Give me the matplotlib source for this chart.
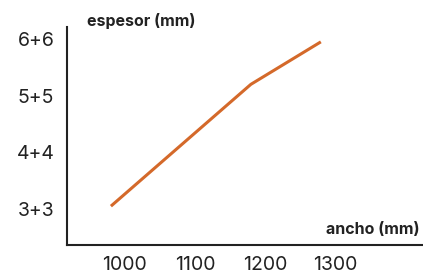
import matplotlib
matplotlib.use('Agg')
import matplotlib.pyplot as plt

# Data
ancho = [980, 1180, 1280]          # width [mm]
espesor = [3.05, 5.2, 5.95]        # thickness level
x_ticks = [1000, 1100, 1200, 1300]
y_ticks = [3, 4, 5, 6]
y_labels = ['3+3', '4+4', '5+5', '6+6']

plt.rcParams['font.family'] = ['Inter', 'DejaVu Sans']

fig = plt.figure(figsize=(4.23, 2.74), dpi=100)
ax = fig.add_axes([0.158, 0.106, 0.842, 0.795])

ax.plot(ancho, espesor, color='#d4692a', linewidth=2.2, solid_capstyle='butt')

ax.set_xlim(917, 1426)
ax.set_ylim(2.365, 6.21)
ax.set_xticks(x_ticks)
ax.set_yticks(y_ticks)
ax.set_yticklabels(y_labels)
ax.tick_params(axis='both', length=0, labelsize=14, colors='#222222')
ax.tick_params(axis='y', pad=9)
ax.tick_params(axis='x', pad=8)

for s in ['top', 'right']:
    ax.spines[s].set_visible(False)
for s in ['left', 'bottom']:
    ax.spines[s].set_color('#222222')
    ax.spines[s].set_linewidth(1.5)

fig.text(87 / 423, 1 - 21 / 274, 'espesor (mm)', fontsize=11.5, fontweight='bold',
         color='#222222', ha='left', va='center')
fig.text(420 / 423, 1 - 229 / 274, 'ancho (mm)', fontsize=11.5, fontweight='bold',
         color='#222222', ha='right', va='center')

fig.savefig('out.png', dpi=100)
